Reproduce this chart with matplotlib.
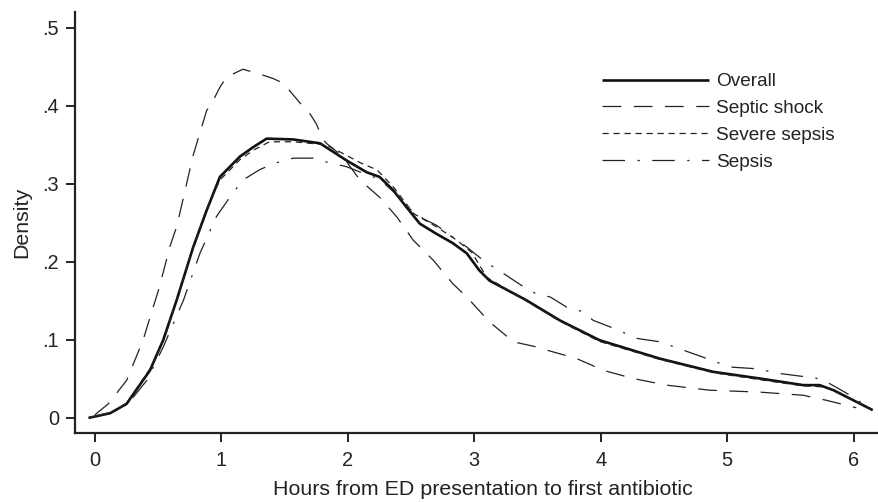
import matplotlib
matplotlib.use("Agg")
import matplotlib.pyplot as plt

plt.rcParams['font.family'] = ['Liberation Sans', 'DejaVu Sans']

# ---- data ----
overall_x = [-0.05, 0.12, 0.25, 0.435, 0.54, 0.646, 0.777, 0.883, 0.988, 1.146, 1.25, 1.357,
             1.568, 1.78, 1.99, 2.148, 2.25, 2.358, 2.464, 2.569, 2.70, 2.83, 2.94, 3.04,
             3.12, 3.41, 3.676, 3.99, 4.466, 4.89, 5.257, 5.6, 5.73, 5.84, 6.15]
overall_y = [0.000, 0.006, 0.018, 0.061, 0.100, 0.151, 0.219, 0.266, 0.309, 0.335, 0.347, 0.358,
             0.357, 0.352, 0.330, 0.315, 0.309, 0.292, 0.270, 0.249, 0.236, 0.224, 0.211, 0.189,
             0.176, 0.151, 0.125, 0.0996, 0.076, 0.059, 0.0505, 0.042, 0.042, 0.0355, 0.010]

shock_x = [0.0, 0.105, 0.25, 0.38, 0.51, 0.593, 0.646, 0.777, 0.883, 0.935, 0.988, 1.04, 1.17,
           1.30, 1.41, 1.49, 1.62, 1.70, 1.75, 1.80, 1.83, 1.96, 2.095, 2.25, 2.385, 2.516,
           2.676, 2.83, 2.94, 3.12, 3.31, 3.49, 3.57, 3.81, 4.02, 4.255, 4.52, 4.86, 5.26,
           5.6, 5.78, 6.02]
shock_y = [0.004, 0.018, 0.048, 0.0996, 0.168, 0.220, 0.245, 0.337, 0.394, 0.407, 0.424, 0.437,
           0.447, 0.441, 0.435, 0.429, 0.404, 0.390, 0.377, 0.358, 0.352, 0.335, 0.305, 0.283,
           0.258, 0.228, 0.202, 0.172, 0.155, 0.123, 0.0975, 0.091, 0.087, 0.076, 0.061,
           0.0505, 0.042, 0.0355, 0.033, 0.029, 0.0227, 0.013]

severe_x = [-0.05, 0.12, 0.25, 0.435, 0.54, 0.646, 0.777, 0.883, 0.988, 1.146, 1.25, 1.38,
            1.57, 1.83, 1.96, 2.10, 2.23, 2.36, 2.52, 2.70, 2.86, 2.98, 3.10, 3.41, 3.676,
            3.99, 4.466, 4.89, 5.257, 5.6, 5.73, 5.84, 6.15]
severe_y = [0.000, 0.006, 0.019, 0.063, 0.098, 0.150, 0.220, 0.268, 0.305, 0.331, 0.343, 0.354,
            0.354, 0.350, 0.339, 0.327, 0.318, 0.296, 0.262, 0.245, 0.228, 0.212, 0.180, 0.150,
            0.124, 0.098, 0.075, 0.058, 0.049, 0.041, 0.040, 0.036, 0.010]

sepsis_x = [-0.05, 0.15, 0.28, 0.41, 0.54, 0.70, 0.83, 0.96, 1.067, 1.17, 1.30, 1.41, 1.568,
            1.73, 1.83, 1.99, 2.10, 2.25, 2.36, 2.47, 2.60, 2.70, 2.94, 3.07, 3.25, 3.39, 3.49,
            3.60, 3.73, 3.86, 3.94, 4.10, 4.20, 4.28, 4.47, 4.65, 4.84, 4.94, 5.04, 5.23,
            5.41, 5.70, 5.75, 5.82, 5.94, 6.15]
sepsis_y = [0.000, 0.008, 0.022, 0.048, 0.091, 0.151, 0.211, 0.258, 0.283, 0.305, 0.318, 0.326,
            0.333, 0.333, 0.328, 0.322, 0.315, 0.306, 0.290, 0.270, 0.255, 0.247, 0.219, 0.202,
            0.183, 0.168, 0.159, 0.155, 0.142, 0.136, 0.125, 0.115, 0.108, 0.102, 0.0975,
            0.087, 0.076, 0.070, 0.065, 0.063, 0.057, 0.051, 0.049, 0.043, 0.032, 0.010]

labels = ["Overall", "Septic shock", "Severe sepsis", "Sepsis"]
xticks = [0, 1, 2, 3, 4, 5, 6]
yticks = [0, 0.1, 0.2, 0.3, 0.4, 0.5]
ytick_labels = ["0", ".1", ".2", ".3", ".4", ".5"]

TICK_FS = 14.4
LABEL_FS = 15.4
LEG_FS = 13.7
TXT = "#222222"

fig = plt.figure(figsize=(8.79, 5.03), dpi=100)
ax = fig.add_axes([75 / 879, 1 - 432.7 / 503, 1 - 75 / 879, (432.7 - 12.3) / 503])

ax.plot(overall_x, overall_y, color="#111111", lw=1.9, solid_capstyle="butt", label=labels[0])
ax.plot(shock_x, shock_y, color="#222222", lw=0.9, dashes=(15, 10), label=labels[1])
ax.plot(severe_x, severe_y, color="#222222", lw=0.9, dashes=(5, 3.8), label=labels[2])
ax.plot(sepsis_x, sepsis_y, color="#222222", lw=0.9, dashes=(18, 10, 1.8, 10), label=labels[3])

ax.set_xlim(-0.158, 6.2)
ax.set_ylim(-0.019, 0.52)
ax.set_xticks(xticks)
ax.set_xticklabels([str(t) for t in xticks])
ax.set_yticks(yticks)
ax.set_yticklabels(ytick_labels)

for s in ["top", "right"]:
    ax.spines[s].set_visible(False)
for s in ["left", "bottom"]:
    ax.spines[s].set_linewidth(1.6)
    ax.spines[s].set_color(TXT)

ax.tick_params(axis="both", direction="out", length=6.5, width=1.4, color=TXT,
               labelsize=TICK_FS, labelcolor=TXT)
ax.tick_params(axis="x", pad=7)
ax.tick_params(axis="y", pad=5)

ax.set_xlabel("Hours from ED presentation to first antibiotic", fontsize=LABEL_FS, color=TXT)
ax.xaxis.set_label_coords((483 - 75) / 804, -47.0 / 420.4, transform=ax.transAxes)
ax.xaxis.label.set_va("top")
ax.set_ylabel("Density", fontsize=LABEL_FS, color=TXT, labelpad=8)

leg = ax.legend(loc="upper left", bbox_to_anchor=(601.7 / 879, 1 - 73 / 503),
                bbox_transform=fig.transFigure, frameon=False, fontsize=LEG_FS,
                handlelength=5.63, handletextpad=0.4, labelspacing=0.5,
                borderpad=0, borderaxespad=0)
for t in leg.get_texts():
    t.set_color(TXT)

fig.savefig("out.png", dpi=100)
